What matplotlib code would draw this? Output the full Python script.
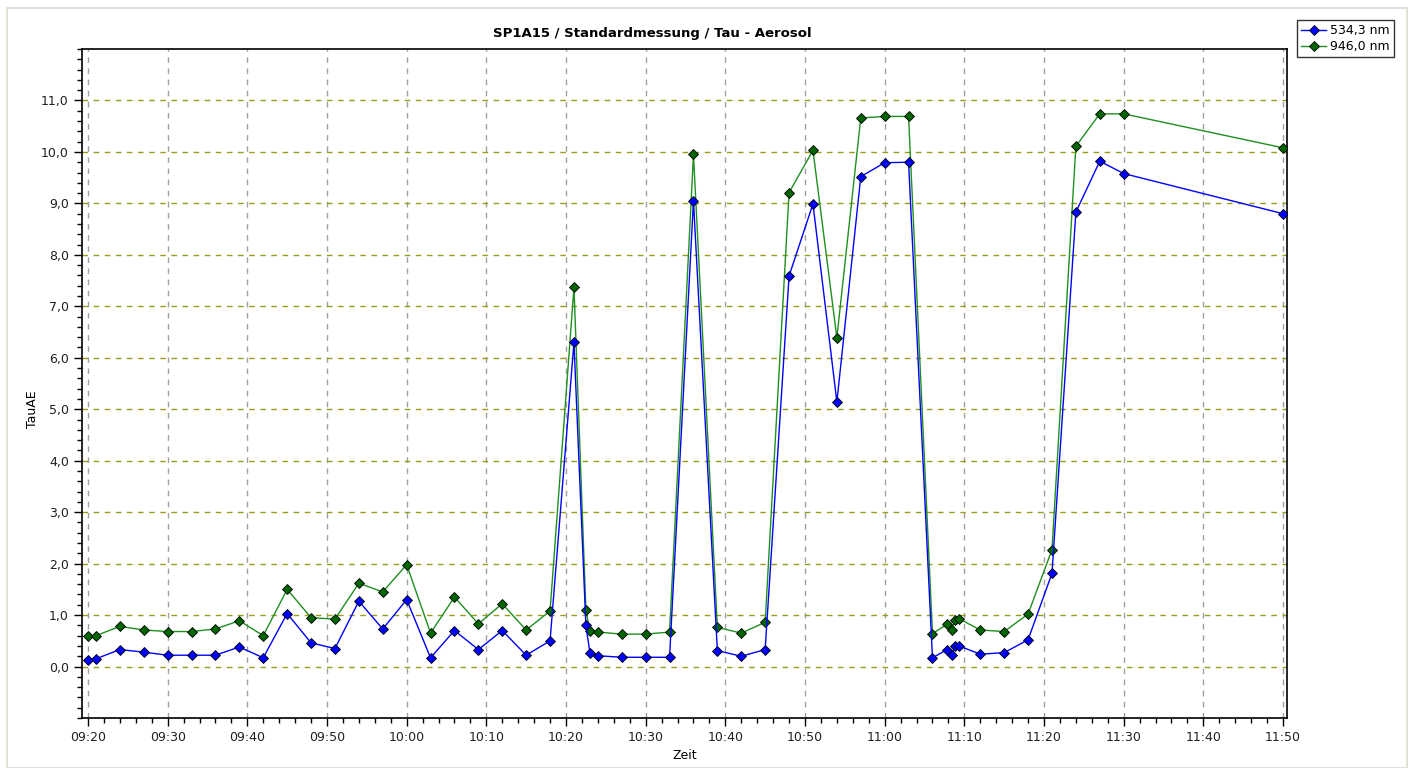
import matplotlib
matplotlib.use("Agg")
import matplotlib.pyplot as plt
import matplotlib.dates as mdates
import matplotlib.ticker as mticker
from matplotlib.patches import Rectangle
import pandas as pd

# measurement times (hh:mm:ss)
times = ["09:20:00", "09:21:00", "09:24:00", "09:27:00", "09:30:00", "09:33:00",
         "09:36:00", "09:39:00", "09:42:00", "09:45:00", "09:48:00", "09:51:00",
         "09:54:00", "09:57:00", "10:00:00", "10:03:00", "10:06:00", "10:09:00",
         "10:12:00", "10:15:00", "10:18:00", "10:21:00", "10:22:30", "10:23:00",
         "10:24:00", "10:27:00", "10:30:00", "10:33:00", "10:36:00", "10:39:00",
         "10:42:00", "10:45:00", "10:48:00", "10:51:00", "10:54:00", "10:57:00",
         "11:00:00", "11:03:00", "11:06:00", "11:07:50", "11:08:25", "11:08:50",
         "11:09:20", "11:12:00", "11:15:00", "11:18:00", "11:21:00", "11:24:00",
         "11:27:00", "11:30:00", "11:50:00"]

tau_534 = [0.13, 0.15, 0.33, 0.28, 0.22, 0.22, 0.22, 0.38, 0.17, 1.03, 0.46, 0.35,
           1.27, 0.73, 1.30, 0.17, 0.70, 0.33, 0.70, 0.22, 0.50, 6.30, 0.80, 0.27,
           0.21, 0.18, 0.18, 0.18, 9.05, 0.31, 0.20, 0.33, 7.59, 8.99, 5.14, 9.52,
           9.79, 9.80, 0.17, 0.33, 0.23, 0.40, 0.40, 0.24, 0.27, 0.52, 1.81, 8.83,
           9.82, 9.58, 8.80]

tau_946 = [0.60, 0.60, 0.78, 0.71, 0.68, 0.68, 0.73, 0.89, 0.60, 1.50, 0.95, 0.92,
           1.62, 1.45, 1.98, 0.65, 1.35, 0.83, 1.22, 0.71, 1.08, 7.37, 1.09, 0.69,
           0.67, 0.63, 0.63, 0.67, 9.95, 0.76, 0.65, 0.86, 9.21, 10.03, 6.39, 10.66,
           10.69, 10.69, 0.64, 0.82, 0.71, 0.90, 0.93, 0.71, 0.68, 1.02, 2.27, 10.11,
           10.74, 10.74, 10.08]

labels = ["534,3 nm", "946,0 nm"]

t = pd.to_datetime(["2015-01-01 " + s for s in times])

plt.rcParams["font.family"] = ["DejaVu Sans"]
fig = plt.figure(figsize=(14.11, 7.68), dpi=100)
ax = fig.add_axes([82 / 1411, 50 / 768, 1205 / 1411, 669 / 768])

# outer frame of the chart control
fig.patches.append(Rectangle((7 / 1411, 0), 1400 / 1411, 760 / 768,
                             transform=fig.transFigure, fill=False,
                             edgecolor="#dcdcd0", lw=1.2))

ax.plot(t, tau_534, color="#0000ff", lw=1, marker="D", markersize=5,
        markerfacecolor="#0000ff", markeredgecolor="black", markeredgewidth=0.6,
        label=labels[0], zorder=4)
ax.plot(t, tau_946, color="#1f8f1f", lw=1, marker="D", markersize=5,
        markerfacecolor="#006400", markeredgecolor="black", markeredgewidth=0.6,
        label=labels[1], zorder=3)

# axes limits
ax.set_xlim(pd.Timestamp("2015-01-01 09:19:15"), pd.Timestamp("2015-01-01 11:50:30"))
ax.set_ylim(-1, 12)

# ticks
ax.xaxis.set_major_locator(mdates.MinuteLocator(byminute=range(0, 60, 10)))
ax.xaxis.set_minor_locator(mdates.MinuteLocator(byminute=range(0, 60, 2)))
ax.xaxis.set_major_formatter(mdates.DateFormatter("%H:%M"))
ax.yaxis.set_major_locator(mticker.FixedLocator(range(0, 12)))
ax.yaxis.set_minor_locator(mticker.MultipleLocator(0.2))
ax.yaxis.set_major_formatter(mticker.FuncFormatter(lambda v, p: f"{v:.1f}".replace(".", ",")))
ax.tick_params(which="major", length=6, width=1, labelsize=9, color="black",
               labelcolor="#202020")
ax.tick_params(which="minor", length=3.5, width=1, color="black")

# grids
ax.xaxis.grid(True, which="major", color="#a0a0a0", ls=(0, (4, 4)), lw=1)
ax.yaxis.grid(True, which="major", color="#9c9c1c", ls=(0, (4, 4)), lw=1)
ax.set_axisbelow(True)

for s in ax.spines.values():
    s.set_linewidth(1.2)
    s.set_color("black")

# title is centred over the chart area left of the legend
fig.text(652 / 1411, 1 - 33 / 768, "SP1A15 / Standardmessung / Tau - Aerosol",
         fontsize=9.5, fontweight="bold", ha="center", va="center")
ax.set_xlabel("Zeit", fontsize=9)
ax.xaxis.set_label_coords(0.5, -0.047)
ax.set_ylabel("TauAE", fontsize=9)
ax.yaxis.set_label_coords(-0.036, 0.462)

leg = fig.legend(loc="upper left", bbox_to_anchor=(1297 / 1411, 1 - 20 / 768),
                 fontsize=9, frameon=True, fancybox=False, borderpad=0.35,
                 handlelength=2.0, handletextpad=0.3, labelspacing=0.2,
                 borderaxespad=0)
leg.get_frame().set_edgecolor("black")
leg.get_frame().set_linewidth(1)

fig.savefig("out.png", dpi=100)
